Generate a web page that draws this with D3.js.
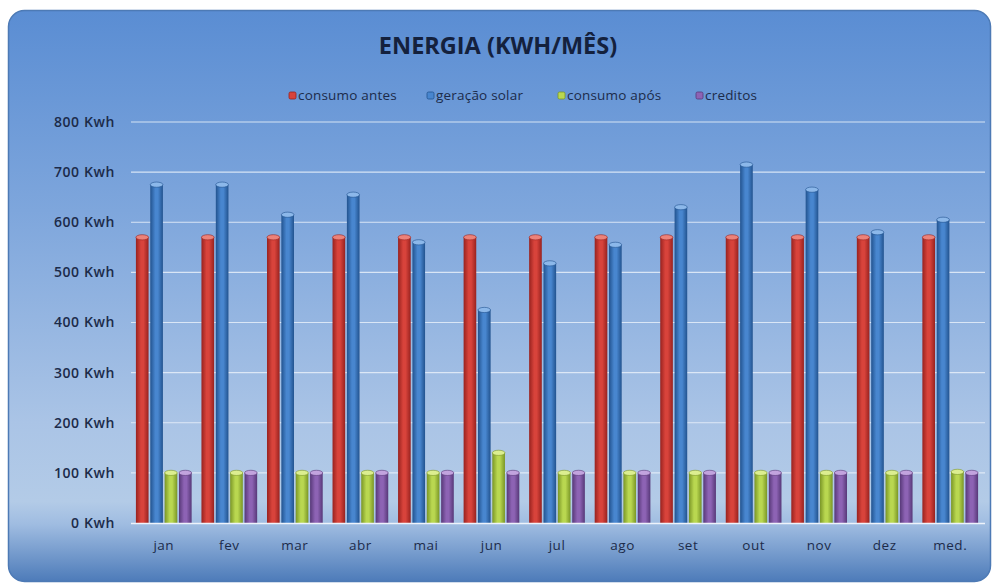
<!DOCTYPE html>
<html>
<head>
<meta charset="utf-8">
<script src="https://cdn.jsdelivr.net/npm/d3@7"></script>
<style>
  html, body { margin: 0; padding: 0; background: #ffffff; }
  svg { display: block; }
</style>
</head>
<body>
<svg id="chart" width="995" height="585"></svg>
<script>
// Monthly energy figures (kWh)
const categories = ["jan", "fev", "mar", "abr", "mai", "jun", "jul", "ago", "set", "out", "nov", "dez", "med."];
const consumoAntes = [570, 570, 570, 570, 570, 570, 570, 570, 570, 570, 570, 570, 570];
const geracaoSolar = [675, 675, 615, 655, 560, 425, 518, 555, 630, 715, 665, 580, 605];
const consumoApos = [100, 100, 100, 100, 100, 140, 100, 100, 100, 100, 100, 100, 102];
const creditos = [100, 100, 100, 100, 100, 100, 100, 100, 100, 100, 100, 100, 100];
const seriesNames = ["consumo antes", "geração solar", "consumo após", "creditos"];
const yTicks = [0, 100, 200, 300, 400, 500, 600, 700, 800];

const seriesValues = [consumoAntes, geracaoSolar, consumoApos, creditos];
const palette = [
  { edge: "#98221f", mid: "#d8433b", cap: "#ec8279" },
  { edge: "#22538f", mid: "#4886cf", cap: "#8cb8ea" },
  { edge: "#7a9626", mid: "#b9d750", cap: "#dcee90" },
  { edge: "#573878", mid: "#8d63b4", cap: "#c2a3de" }
];

const svg = d3.select("#chart");
const defs = svg.append("defs");

// Panel background: blue vertical gradient, darker strip below the axis
const bg = defs.append("linearGradient").attr("id", "bg")
  .attr("x1", 0).attr("y1", 0).attr("x2", 0).attr("y2", 1);
[[0, "#5a8dd3"], [0.35, "#7ea6dc"], [0.72, "#aac4e6"], [0.86, "#b3cbe7"], [0.9, "#9fbce1"], [1, "#4d7bb9"]]
  .forEach(([o, c]) => bg.append("stop").attr("offset", o).attr("stop-color", c));

// Cylinder shading for each series
palette.forEach((p, i) => {
  const g = defs.append("linearGradient").attr("id", "bar" + i)
    .attr("x1", 0).attr("y1", 0).attr("x2", 1).attr("y2", 0);
  g.append("stop").attr("offset", 0).attr("stop-color", p.edge);
  g.append("stop").attr("offset", 0.4).attr("stop-color", p.mid);
  g.append("stop").attr("offset", 0.6).attr("stop-color", p.mid);
  g.append("stop").attr("offset", 1).attr("stop-color", p.edge);
});

svg.append("rect")
  .attr("x", 8.5).attr("y", 10.5).attr("width", 982).attr("height", 571)
  .attr("rx", 16).attr("ry", 16)
  .attr("fill", "url(#bg)").attr("stroke", "#4d7ab5").attr("stroke-width", 1.5);

const font = "'Open Sans', sans-serif";
const textColor = "#1c2b4a";

// Title
svg.append("text")
  .attr("x", 498).attr("y", 54)
  .attr("text-anchor", "middle")
  .attr("font-family", font).attr("font-weight", 700).attr("font-size", 23.5)
  .attr("fill", "#14213d")
  .text("ENERGIA (KWH/MÊS)");

// Scales
const y = d3.scaleLinear().domain([0, 800]).range([523, 122]);
const x0 = d3.scaleBand().domain(categories).range([131, 983]).paddingInner(0.15).paddingOuter(0.075);
const x1 = d3.scaleBand().domain(d3.range(4)).range([0, x0.bandwidth()]).paddingInner(0.12);

// Gridlines
svg.append("g").selectAll("line").data(yTicks.filter(t => t > 0)).join("line")
  .attr("x1", 131).attr("x2", 985)
  .attr("y1", d => y(d)).attr("y2", d => y(d))
  .attr("stroke", "#e6eef9").attr("stroke-opacity", 0.85).attr("stroke-width", 1.2);

// Y axis labels
const yAxis = d3.axisLeft(y).tickValues(yTicks).tickSize(0).tickPadding(0)
  .tickFormat(d => d + " Kwh");
const yG = svg.append("g").attr("transform", "translate(115,0)").call(yAxis);
yG.select(".domain").remove();
yG.selectAll("text")
  .attr("font-family", font).attr("font-size", 14).attr("font-weight", 600)
  .attr("letter-spacing", 0.6)
  .attr("fill", textColor);

// Bars
const groups = svg.append("g").selectAll("g").data(categories).join("g")
  .attr("transform", d => `translate(${x0(d)},0)`);

groups.each(function (cat, ci) {
  const g = d3.select(this);
  seriesValues.forEach((vals, si) => {
    const v = vals[ci];
    const bx = x1(si), bw = x1.bandwidth();
    g.append("rect")
      .attr("x", bx).attr("y", y(v))
      .attr("width", bw).attr("height", y(0) - y(v))
      .attr("fill", `url(#bar${si})`);
    g.append("ellipse")
      .attr("cx", bx + bw / 2).attr("cy", y(v))
      .attr("rx", bw / 2).attr("ry", 2.6)
      .attr("fill", palette[si].cap).attr("stroke", palette[si].edge).attr("stroke-width", 0.6);
  });
});

// X axis line and labels
svg.append("line")
  .attr("x1", 131).attr("x2", 985).attr("y1", y(0) + 0.5).attr("y2", y(0) + 0.5)
  .attr("stroke", "#eef3fb").attr("stroke-width", 1.5);

const xAxis = d3.axisBottom(x0).tickSize(0).tickPadding(0);
const xG = svg.append("g").attr("transform", `translate(0,${y(0) + 27})`).call(xAxis);
xG.select(".domain").remove();
xG.selectAll("text")
  .attr("dy", 0)
  .attr("font-family", font).attr("font-size", 13.5)
  .attr("letter-spacing", 0.5)
  .attr("fill", textColor);

// Legend
const legendX = [289, 427, 558, 696];
const legend = svg.append("g").selectAll("g").data(seriesNames).join("g")
  .attr("transform", (d, i) => `translate(${legendX[i]},100)`);
legend.append("rect")
  .attr("x", 0).attr("y", -8).attr("width", 7).attr("height", 7).attr("rx", 1.5)
  .attr("fill", (d, i) => palette[i].mid).attr("stroke", (d, i) => palette[i].edge).attr("stroke-width", 0.8);
legend.append("text")
  .attr("x", 9).attr("y", 0)
  .attr("font-family", font).attr("font-size", 13.5)
  .attr("letter-spacing", 0.2)
  .attr("fill", textColor)
  .text(d => d);
</script>
</body>
</html>
